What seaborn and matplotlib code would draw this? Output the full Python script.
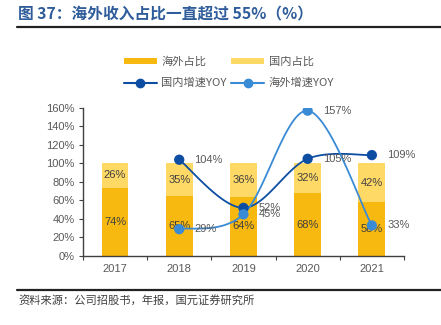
import numpy as np
import pandas as pd
import matplotlib
matplotlib.use("Agg")
import matplotlib.pyplot as plt
from matplotlib.lines import Line2D
from matplotlib.patches import Patch
import seaborn as sns

years = ["2017", "2018", "2019", "2020", "2021"]
overseas_share = [74, 65, 64, 68, 58]
domestic_share = [26, 35, 36, 32, 42]
growth_years = ["2018", "2019", "2020", "2021"]
domestic_yoy = [104, 52, 105, 109]
overseas_yoy = [29, 45, 157, 33]
y_ticks = [0, 20, 40, 60, 80, 100, 120, 140, 160]

C_OVER = "#F7B80F"
C_DOM = "#FFD966"
C_DYOY = "#0D4EA3"
C_OYOY = "#3A8BD6"
TXT = "#595959"

sns.set_theme(style="white")
plt.rcParams["font.family"] = ["Liberation Sans", "Noto Sans CJK SC", "DejaVu Sans"]
CJK = ["Noto Sans CJK SC", "DejaVu Sans"]

fig = plt.figure(figsize=(4.41, 3.25), dpi=100)
ax = fig.add_axes([0.188, 0.2123, 0.728, 0.4557])

df = pd.DataFrame({"year": years, "over": overseas_share, "dom": domestic_share})
df["total"] = df["over"] + df["dom"]

sns.barplot(data=df, x="year", y="total", color=C_DOM, saturation=1, width=0.42,
            linewidth=0, ax=ax)
sns.barplot(data=df, x="year", y="over", color=C_OVER, saturation=1, width=0.42,
            linewidth=0, ax=ax)

for i, (o, d) in enumerate(zip(overseas_share, domestic_share)):
    ax.text(i, o / 2, f"{o}%", ha="center", va="center", fontsize=8, color="#404040")
    ax.text(i, o + d / 2, f"{d}%", ha="center", va="center", fontsize=8, color="#404040")


def smooth_path(xs, ys, n=40):
    """Cubic Bezier curve through the points (Catmull-Rom style tangents)."""
    xs = np.asarray(xs, float)
    ys = np.asarray(ys, float)
    px = np.concatenate([[xs[0]], xs, [xs[-1]]])
    py = np.concatenate([[ys[0]], ys, [ys[-1]]])
    out_x, out_y = [], []
    for k in range(1, len(px) - 2):
        p0 = np.array([px[k], py[k]])
        p3 = np.array([px[k + 1], py[k + 1]])
        c1 = p0 + (p3 - np.array([px[k - 1], py[k - 1]])) / 6
        c2 = p3 - (np.array([px[k + 2], py[k + 2]]) - p0) / 6
        t = np.linspace(0, 1, n)[:, None]
        pts = (1 - t) ** 3 * p0 + 3 * (1 - t) ** 2 * t * c1 + 3 * (1 - t) * t ** 2 * c2 + t ** 3 * p3
        out_x.extend(pts[:, 0])
        out_y.extend(pts[:, 1])
    return out_x, out_y


gx = [years.index(y) for y in growth_years]
for vals, col in [(domestic_yoy, C_DYOY), (overseas_yoy, C_OYOY)]:
    sx, sy = smooth_path(gx, vals)
    ax.plot(sx, sy, color=col, lw=1.3, zorder=3)
    sns.scatterplot(x=gx, y=vals, color=col, s=55, edgecolor="none", ax=ax, zorder=4)
    for xi, v in zip(gx, vals):
        ax.annotate(f"{v}%", (xi, v), xytext=(11, 0), textcoords="offset points",
                    ha="left", va="center", fontsize=8, color=TXT, zorder=5)

ax.set_xlim(-0.5, 4.5)
ax.set_ylim(0, 160)
ax.set_yticks(y_ticks)
ax.set_yticklabels([f"{t}%" for t in y_ticks])
ax.set_xlabel("")
ax.set_ylabel("")
ax.set_xticks(range(len(years)))
ax.set_xticklabels(years)
ax.tick_params(axis="both", labelsize=8, labelcolor=TXT, length=0, pad=6)
ax.set_xticks(np.arange(-0.5, 5, 1), minor=True)
ax.tick_params(axis="x", which="minor", bottom=True, length=3, width=0.8, color="#404040", direction="out")
ax.tick_params(axis="y", which="major", left=True, length=3, width=0.8, color="#404040", direction="out", pad=3)
for s in ["top", "right"]:
    ax.spines[s].set_visible(False)
for s in ["left", "bottom"]:
    ax.spines[s].set_color("#404040")
    ax.spines[s].set_linewidth(1.0)

# column-major order so that rows read: shares, then growth rates
handles = [
    Patch(facecolor=C_OVER, edgecolor="none"),
    Line2D([], [], color=C_DYOY, lw=1.5, marker="o", markersize=6),
    Patch(facecolor=C_DOM, edgecolor="none"),
    Line2D([], [], color=C_OYOY, lw=1.5, marker="o", markersize=6),
]
labels = ["海外占比", "国内增速YOY", "国内占比", "海外增速YOY"]
leg = fig.legend(handles, labels, ncol=2, loc="center left", bbox_to_anchor=(0.258, 0.777),
                 frameon=False, prop={"family": CJK, "size": 8.1}, handlelength=2.9,
                 handleheight=0.45, handletextpad=0.4, columnspacing=0.45, labelspacing=0.95)
for t in leg.get_texts():
    t.set_color(TXT)

fig.text(0.041, 0.957, "图 37：海外收入占比一直超过 55%（%）", fontsize=11.3, fontweight="bold",
         color="#2F5C9A", family=CJK, va="center", ha="left")
fig.add_artist(Line2D([0.039, 1.0], [0.917, 0.917], color="#222222", lw=1.6))
fig.add_artist(Line2D([0.039, 1.0], [0.108, 0.108], color="#222222", lw=1.6))
fig.text(0.041, 0.074, "资料来源：公司招股书，年报，国元证券研究所", fontsize=8.1, color="#404040",
         family=CJK, va="center", ha="left")

fig.savefig("out.png", dpi=100)
